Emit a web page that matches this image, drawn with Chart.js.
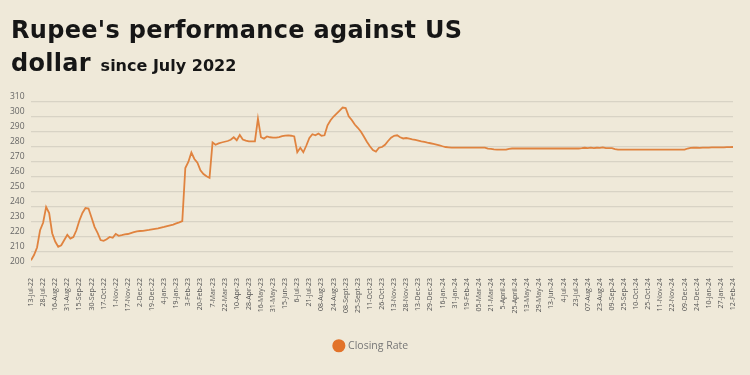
<!DOCTYPE html>
<html>
<head>
<meta charset="utf-8">
<script src="https://cdn.jsdelivr.net/npm/chart.js@4.4.1/dist/chart.umd.min.js"></script>
<style>
  html, body { margin: 0; padding: 0; background: #efe9d9; }
  #wrap { position: relative; width: 750px; height: 375px; overflow: hidden; background: #efe9d9; }
  #title { position: absolute; left: 11px; top: 14px; font-family: "DejaVu Sans", Inter, sans-serif; font-weight: 700; font-size: 24px; line-height: 33px; color: #161616; letter-spacing: 0.3px; white-space: nowrap; z-index: 2; }
  #title .sub { font-size: 16px; font-weight: 700; margin-left: 1px; letter-spacing: 0; }
  canvas { position: absolute; left: 0; top: 0; }
</style>
</head>
<body>
<div id="wrap">
  <div id="title">Rupee's performance against US<br>dollar <span class="sub">since July 2022</span></div>
  <canvas id="c" width="750" height="375"></canvas>
</div>
<script>
// ---- data ----
const tickLabels = [
  "13-Jul-22","28-Jul-22","16-Aug-22","31-Aug-22","15-Sep-22","30-Sep-22","17-Oct-22","1-Nov-22",
  "17-Nov-22","2-Dec-22","19-Dec-22","4-Jan-23","19-Jan-23","3-Feb-23","20-Feb-23","7-Mar-23",
  "22-Mar-23","10-Apr-23","28-Apr-23","16-May-23","31-May-23","15-Jun-23","6-Jul-23","21-Jul-23",
  "08-Aug-23","24-Aug-23","08-Sept-23","25-Sept-23","11-Oct-23","26-Oct-23","13-Nov-23","28-Nov-23",
  "13-Dec-23","29-Dec-23","16-Jan-24","31-Jan-24","19-Feb-24","05-Mar-24","21-Mar-24","5-April-24",
  "25-April-24","13-May-24","29-May-24","13-Jun-24","4-Jul-24","23-Jul-24","07-Aug-24","23-Aug-24",
  "09-Sep-24","25-Sep-24","10-Oct-24","25-Oct-24","11-Nov-24","22-Nov-24","09-Dec-24","24-Dec-24",
  "10-Jan-24","27-Jan-24","12-Feb-24"
];
const pointsPerTick = 4;
const closingRate = [
  204.5,208,213,224.5,   229.5,240,236,222.5,   217,213.5,214.5,218,   221.5,219,220,224.5,
  231,236,239.3,239,     233,226.8,222.8,218,   217.5,218.5,220,219.5, 222,220.8,221.2,221.7,
  222,222.6,223.2,223.8, 224,224.1,224.4,224.7, 225.1,225.4,225.7,226.2, 226.7,227.3,227.8,228.3,
  229.1,229.8,230.6,266, 270,276.3,272,269.5,   264.5,262,260.5,259.5,  283,281.5,282.4,283,
  283.5,284,284.8,286.5, 284.5,288,285,284.2,   283.8,283.7,283.8,298.9, 286.5,285.6,287,286.5,
  286.2,286.3,286.6,287.2, 287.6,287.8,287.5,287, 276.5,279.5,276.5,281, 286,288.5,287.8,289,
  287.5,287.8,294.5,297.8, 300.3,302.3,304.3,306.3, 306,300.5,298,295, 292.8,290.3,287,283.5,
  280.5,278,277,279.5,   280,281.5,284,286.2,   287.5,287.8,286.5,285.7, 286,285.6,285.1,284.7,
  284.3,283.8,283.4,282.9, 282.5,282.1,281.6,281.1, 280.5,280,279.8,279.6, 279.6,279.6,279.6,279.6,
  279.6,279.6,279.6,279.6, 279.6,279.6,279.6,278.9, 278.7,278.4,278.2,278.2, 278.2,278.2,278.8,279,
  279,279,279,279,       279,279,279,279,       279,279,279,279,       279,279,279,279,
  279,279,279,279,       279,279,279.2,279.5,   279.3,279.6,279.2,279.5, 279.4,279.7,279.3,279.2,
  279.2,278.6,278.3,278.2, 278.2,278.2,278.2,278.2, 278.2,278.2,278.2,278.2, 278.2,278.2,278.2,278.2,
  278.2,278.2,278.2,278.2, 278.2,278.2,278.2,278.2, 278.3,279,279.4,279.5, 279.5,279.4,279.6,279.6,
  279.6,279.7,279.7,279.8, 279.8,279.8,279.9,279.9, 280
];
const yMin = 200, yMax = 310, yStep = 10;
const seriesName = "Closing Rate";

const points = closingRate.map((v, i) => ({ x: i / pointsPerTick, y: v }));

new Chart(document.getElementById('c'), {
  type: 'line',
  data: {
    datasets: [{
      label: seriesName,
      data: points,
      borderColor: '#e0833f',
      borderWidth: 1.8,
      pointRadius: 0,
      pointHoverRadius: 0,
      pointBackgroundColor: '#e2732a',
      pointBorderColor: '#e2732a',
      tension: 0,
      fill: false
    }]
  },
  options: {
    responsive: false,
    animation: false,
    devicePixelRatio: 1,
    layout: { padding: { top: 102, left: 10, right: 17, bottom: 14 } },
    plugins: {
      tooltip: { enabled: false },
      legend: {
        position: 'bottom',
        labels: {
          usePointStyle: true,
          pointStyle: 'circle',
          boxWidth: 8,
          boxHeight: 8,
          color: '#777',
          font: { family: '"Open Sans", sans-serif', size: 10.5 },
          padding: 10
        }
      }
    },
    scales: {
      x: {
        type: 'linear',
        min: 0,
        max: tickLabels.length - 1,
        grid: { display: false },
        border: { display: false },
        ticks: {
          stepSize: 1,
          autoSkip: false,
          maxRotation: 90,
          minRotation: 90,
          padding: 3,
          color: '#555',
          font: { family: '"Open Sans", sans-serif', size: 7 },
          callback: (v) => tickLabels[v] ?? ''
        },
        afterFit: (scale) => {
          const lg = scale.chart.legend;
          const lh = lg ? lg.height : 0;
          scale.height = 375 - 14 - lh - 267;
        }
      },
      y: {
        min: yMin,
        max: yMax,
        grid: { color: '#d8d3c5', lineWidth: 1.3, drawTicks: false },
        border: { display: false },
        ticks: {
          stepSize: yStep,
          crossAlign: 'far',
          labelOffset: -5,
          padding: 0,
          color: '#666',
          font: { family: '"Open Sans", sans-serif', size: 8.5 }
        },
        afterFit: (scale) => { scale.width = 21; }
      }
    }
  }
});
</script>
</body>
</html>
